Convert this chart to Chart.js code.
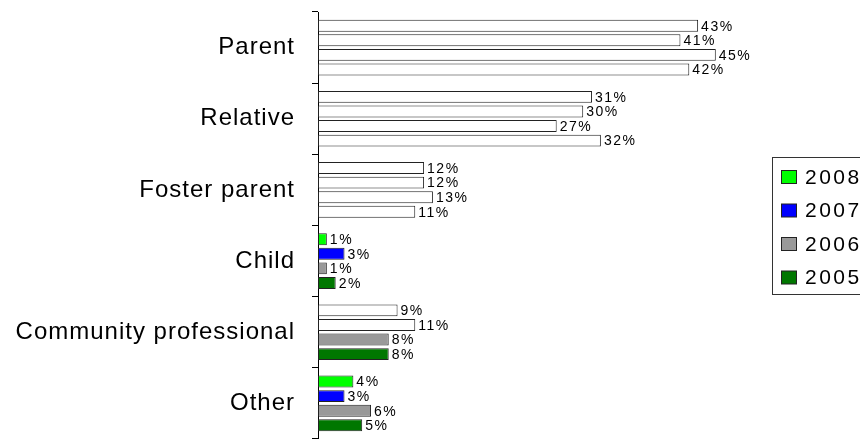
<!DOCTYPE html>
<html>
<head>
<meta charset="utf-8">
<script src="https://cdn.jsdelivr.net/npm/chart.js@4.4.0/dist/chart.umd.min.js"></script>
<style>
  html, body { margin: 0; padding: 0; background: #fff; overflow: hidden; }
  #wrap { width: 860px; height: 439px; position: relative; }
</style>
</head>
<body>
<div id="wrap"><canvas id="chart"></canvas></div>
<script>
// chart data
const categories = ["Parent", "Relative", "Foster parent", "Child", "Community professional", "Other"];
const years = ["2008", "2007", "2006", "2005"];
const values2008 = [43, 31, 12, 1, 9, 4];
const values2007 = [41, 30, 12, 3, 11, 3];
const values2006 = [45, 27, 13, 1, 8, 6];
const values2005 = [42, 32, 11, 2, 8, 5];

// styling
const seriesColors = ["#00ff00", "#0000ff", "#999999", "#007700"];
// which bars get the series colour (the rest are drawn white)
const filledMask = [
  [false, false, false, true, false, true],
  [false, false, false, true, false, true],
  [false, false, false, true, true, true],
  [false, false, false, true, true, true],
];

const allValues = [values2008, values2007, values2006, values2005];

const datasets = years.map((y, i) => ({
  label: y,
  data: allValues[i],
  backgroundColor: (c) => (filledMask[i][c.dataIndex] ? seriesColors[i] : "#ffffff"),
  borderColor: "#222",
  borderWidth: 1,
  borderSkipped: false,
  categoryPercentage: 0.82,
  barPercentage: 0.82,
}));

// the source uses a wide sans face; widen the axis text a little
const wideText = {
  id: "wideText",
  beforeDraw(chart) { chart.ctx.letterSpacing = "1px"; },
  afterDraw(chart) { chart.ctx.letterSpacing = "0px"; },
};

// value labels at the end of each bar
const valueLabels = {
  id: "valueLabels",
  afterDatasetsDraw(chart) {
    const ctx = chart.ctx;
    ctx.save();
    ctx.font = "14px 'Liberation Sans', Arial, sans-serif";
    ctx.letterSpacing = "1.5px";
    ctx.fillStyle = "#000";
    ctx.textAlign = "left";
    ctx.textBaseline = "middle";
    chart.data.datasets.forEach((ds, i) => {
      chart.getDatasetMeta(i).data.forEach((bar, j) => {
        ctx.fillText(ds.data[j] + "%", bar.x + 3, bar.y + 1);
      });
    });
    ctx.restore();
  },
};

// boxed legend to the right of the plot, running off the edge
const boxLegend = {
  id: "boxLegend",
  afterDraw(chart) {
    const ctx = chart.ctx;
    const left = chart.chartArea.right + 12;
    const top = 157;
    ctx.save();
    ctx.strokeStyle = "#333";
    ctx.lineWidth = 1;
    ctx.strokeRect(left + 0.5, top + 0.5, 200, 137);
    ctx.font = "21px 'Liberation Sans', Arial, sans-serif";
    ctx.letterSpacing = "2.5px";
    ctx.textBaseline = "middle";
    chart.data.datasets.forEach((ds, i) => {
      const cy = top + 20 + i * 33.5;
      ctx.fillStyle = seriesColors[i];
      ctx.fillRect(left + 9.5, cy - 6.5, 15, 13);
      ctx.strokeStyle = "#222";
      ctx.strokeRect(left + 9.5, cy - 6.5, 15, 13);
      ctx.fillStyle = "#000";
      ctx.fillText(ds.label, left + 33, cy + 1);
    });
    ctx.restore();
  },
};

new Chart(document.getElementById("chart"), {
  type: "bar",
  data: { labels: categories, datasets: datasets },
  plugins: [wideText, valueLabels, boxLegend],
  options: {
    indexAxis: "y",
    responsive: true,
    maintainAspectRatio: false,
    animation: false,
    layout: { padding: { top: 12, right: 100, bottom: 0, left: 0 } },
    plugins: {
      legend: { display: false },
      tooltip: { enabled: false },
    },
    scales: {
      x: { min: 0, max: 50, display: false },
      y: {
        afterFit: (scale) => {
          scale.width = 318;
          scale.paddingTop = 0;
          scale.paddingBottom = 0;
        },
        grid: { offset: true, drawOnChartArea: false, tickLength: 6, color: "#000" },
        border: { color: "#000" },
        ticks: {
          color: "#000",
          padding: 17,
          font: { family: "'Liberation Sans', Arial, sans-serif", size: 24 },
        },
      },
    },
  },
});
</script>
</body>
</html>
